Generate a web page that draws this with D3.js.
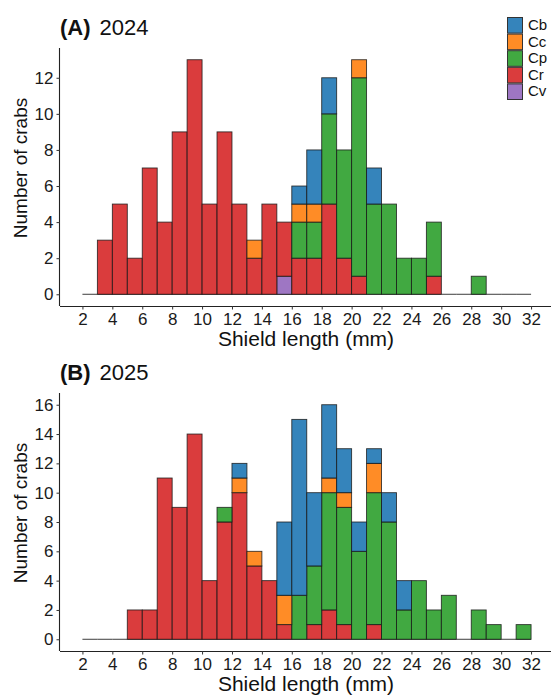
<!DOCTYPE html>
<html>
<head>
<meta charset="utf-8">
<script src="https://cdn.jsdelivr.net/npm/d3@7"></script>
<style>
  body { margin: 0; background: #fff; }
  svg { display: block; font-family: "Liberation Sans", Arial, sans-serif; }
</style>
</head>
<body>
<div id="chart-area"></div>
<script>
// bin start (mm), each bin is 1 mm wide
var binStart = [2,3,4,5,6,7,8,9,10,11,12,13,14,15,16,17,18,19,20,21,22,23,24,25,26,27,28,29,30,31]
var species = ["Cb", "Cc", "Cp", "Cr", "Cv"]
var speciesColor = ["#1f77b4", "#ff7f0e", "#2ca02c", "#d62728", "#9467bd"]
var xTicks = [2,4,6,8,10,12,14,16,18,20,22,24,26,28,30,32]

// 2024 counts per bin
var cb2024 = [0,0,0,0,0,0,0,0,0,0,0,0,0,0,1,3,2,0,0,2,0,0,0,0,0,0,0,0,0,0]
var cc2024 = [0,0,0,0,0,0,0,0,0,0,0,1,0,0,1,1,0,0,1,0,0,0,0,0,0,0,0,0,0,0]
var cp2024 = [0,0,0,0,0,0,0,0,0,0,0,0,0,0,2,2,5,6,11,5,5,2,2,3,0,0,1,0,0,0]
var cr2024 = [0,3,5,2,7,4,9,13,5,9,5,2,5,3,2,2,5,2,1,0,0,0,0,1,0,0,0,0,0,0]
var cv2024 = [0,0,0,0,0,0,0,0,0,0,0,0,0,1,0,0,0,0,0,0,0,0,0,0,0,0,0,0,0,0]

// 2025 counts per bin
var cb2025 = [0,0,0,0,0,0,0,0,0,0,1,0,0,5,12,5,5,3,2,1,2,2,0,0,0,0,0,0,0,0]
var cc2025 = [0,0,0,0,0,0,0,0,0,0,1,1,0,2,0,0,1,1,0,2,0,0,0,0,0,0,0,0,0,0]
var cp2025 = [0,0,0,0,0,0,0,0,0,1,0,0,0,0,3,4,8,8,6,9,8,2,4,2,3,0,2,1,0,1]
var cr2025 = [0,0,0,2,2,11,9,14,4,8,10,5,4,1,0,1,2,1,0,1,0,0,0,0,0,0,0,0,0,0]
var cv2025 = [0,0,0,0,0,0,0,0,0,0,0,0,0,0,0,0,0,0,0,0,0,0,0,0,0,0,0,0,0,0]

var W = 551, H = 695
var svg = d3.select("#chart-area")
    .append("svg")
    .attr("width", W)
    .attr("height", H)

var color = d3.scaleOrdinal().domain(species).range(speciesColor)

function rows(cb, cc, cp, cr, cv) {
    return binStart.map((b, i) => {
        return { bin: b, Cb: cb[i], Cc: cc[i], Cp: cp[i], Cr: cr[i], Cv: cv[i] }
    })
}

// ggplot stacks first level on top
var stack = d3.stack().keys(["Cv", "Cr", "Cp", "Cc", "Cb"])

var x = d3.scaleLinear()
    .domain([0.5, 33.5])
    .range([60, 553.5])

function panel(top, letter, year, data, yMax, yTicks) {
    var plotH = 258
    var pad = yMax * 0.05
    var y = d3.scaleLinear()
        .domain([-pad, yMax + pad])
        .range([top + plotH, top])

    var g = svg.append("g")

    // empty bins still show as a flat line at zero
    g.selectAll("line.zero")
        .data(data)
        .enter()
        .append("line")
        .attr("class", "zero")
        .attr("x1", d => x(d.bin))
        .attr("x2", d => x(d.bin + 1))
        .attr("y1", y(0))
        .attr("y2", y(0))
        .attr("stroke", "#1a1a1a")
        .attr("stroke-opacity", 0.85)
        .attr("stroke-width", 1)

    var series = stack(data)
    g.selectAll("g.layer")
        .data(series)
        .enter()
        .append("g")
        .attr("class", "layer")
        .attr("fill", d => color(d.key))
        .attr("fill-opacity", 0.9)
        .selectAll("rect")
        .data(d => d.filter(v => v[1] > v[0]))
        .enter()
        .append("rect")
        .attr("x", d => x(d.data.bin))
        .attr("width", d => x(d.data.bin + 1) - x(d.data.bin))
        .attr("y", d => y(d[1]))
        .attr("height", d => y(d[0]) - y(d[1]))
        .attr("stroke", "#1a1a1a")
        .attr("stroke-opacity", 0.85)
        .attr("stroke-width", 0.9)

    var xAxisCall = d3.axisBottom(x)
        .tickValues(xTicks)
        .tickSize(3.5)
        .tickPadding(3)
    var xa = g.append("g")
        .attr("transform", "translate(0," + (top + plotH) + ")")
        .call(xAxisCall)
    xa.select(".domain").attr("d", "M60,0.5H551").attr("stroke", "#222").attr("stroke-width", 1.1)
    xa.selectAll(".tick line").attr("stroke", "#333")
    xa.selectAll("text").attr("font-size", "17px").attr("fill", "#1a1a1a").attr("font-family", "Liberation Sans, Arial, sans-serif")

    var yAxisCall = d3.axisLeft(y)
        .tickValues(yTicks)
        .tickSize(3.5)
        .tickPadding(3)
    var ya = g.append("g")
        .attr("transform", "translate(60,0)")
        .call(yAxisCall)
    ya.select(".domain").attr("d", "M-0.5," + top + "V" + (top + plotH)).attr("stroke", "#222").attr("stroke-width", 1.1)
    ya.selectAll(".tick line").attr("stroke", "#333")
    ya.selectAll("text").attr("font-size", "17px").attr("fill", "#1a1a1a").attr("font-family", "Liberation Sans, Arial, sans-serif")

    g.append("text")
        .attr("x", 306)
        .attr("y", top + plotH + 40)
        .attr("font-size", "21px")
        .attr("text-anchor", "middle")
        .attr("fill", "#111")
        .text("Shield length (mm)")

    g.append("text")
        .attr("transform", "rotate(-90)")
        .attr("x", -(top + 120))
        .attr("y", 27)
        .attr("font-size", "19px")
        .attr("text-anchor", "middle")
        .attr("fill", "#111")
        .text("Number of crabs")

    var t = g.append("text")
        .attr("x", 60)
        .attr("y", top - 13)
        .attr("font-size", "22px")
        .attr("fill", "#111")
    t.append("tspan").attr("font-weight", "bold").text("(" + letter + ")")
    t.append("tspan").attr("dx", 9).text(year)
}

panel(48, "A", "2024", rows(cb2024, cc2024, cp2024, cr2024, cv2024), 13, [0,2,4,6,8,10,12])
panel(393, "B", "2025", rows(cb2025, cc2025, cp2025, cr2025, cv2025), 16, [0,2,4,6,8,10,12,14,16])

// legend (panel A only)
var legend = svg.append("g")
    .attr("transform", "translate(507,17)")
var item = legend.selectAll("g")
    .data(species)
    .enter()
    .append("g")
    .attr("transform", (d, i) => "translate(0," + (i * 16.6) + ")")
item.append("rect")
    .attr("x", 0.5)
    .attr("y", 0.5)
    .attr("width", 15)
    .attr("height", 15.6)
    .attr("fill", d => color(d))
    .attr("fill-opacity", 0.9)
    .attr("stroke", "#333")
    .attr("stroke-width", 1)
item.append("text")
    .attr("x", 21)
    .attr("y", 13)
    .attr("font-size", "15px")
    .attr("fill", "#111")
    .text(d => d)
</script>
</body>
</html>
